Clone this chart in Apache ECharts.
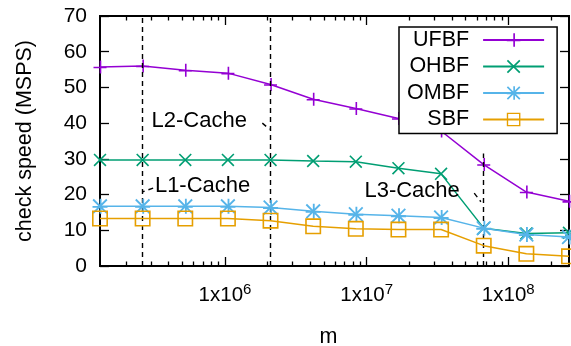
<!DOCTYPE html>
<html><head><meta charset="utf-8">
<script src="https://cdn.jsdelivr.net/npm/echarts@6/dist/echarts.min.js"></script>
<style>html,body{margin:0;padding:0;background:#fff}#c{width:571px;height:346px}</style>
</head><body><div id="c"></div>
<script>
// ---- data ----
const sizes = [131072, 262144, 524288, 1048576, 2097152, 4194304, 8388608, 16777216, 33554432, 67108864, 134217728, 268435456];
const seriesNames = ['UFBF', 'OHBF', 'OMBF', 'SBF'];
const ufbf = [55.7, 56.0, 54.8, 54.0, 50.8, 46.7, 44.1, 41.3, 37.8, 28.4, 20.7, 18.1];
const ohbf = [29.7, 29.7, 29.7, 29.7, 29.7, 29.4, 29.2, 27.4, 25.8, 10.6, 9.1, 9.3];
const ombf = [16.7, 16.7, 16.7, 16.7, 16.4, 15.3, 14.5, 14.1, 13.6, 10.6, 8.8, 8.1];
const sbf  = [13.3, 13.3, 13.3, 13.3, 12.7, 11.1, 10.4, 10.2, 10.2, 5.7, 3.4, 2.7];
const xTickValues = [1e6, 1e7, 1e8];
const xTickLabels = ['1x10^6', '1x10^7', '1x10^8'];
const xMinorTicks = [2e5,3e5,4e5,5e5,6e5,7e5,8e5,9e5,2e6,3e6,4e6,5e6,6e6,7e6,8e6,9e6,2e7,3e7,4e7,5e7,6e7,7e7,8e7,9e7,2e8];
const yTickLabels = ['0','10','20','30','40','50','60','70'];
const cacheNames = ['L1-Cache', 'L2-Cache', 'L3-Cache'];
const cacheSizes = [262144, 2097152, 67108864];
const cacheLineTop = [70, 70, 31.5];

// ---- styles ----
const FONT = "'Liberation Sans', Arial, sans-serif";
const colors = ['#9400d3', '#009e73', '#56b4e9', '#e69f00'];
const PLUS = 'path://M0,6.2H13V7.8H0Z M6.2,0H7.8V13H6.2Z';
const CROSS = 'path://M1.13,0L13,11.87L11.87,13L0,1.13Z M11.87,0L13,1.13L1.13,13L0,11.87Z';
const STAR = 'path://M0,6.2H13V7.8H0Z M6.2,0H7.8V13H6.2Z M1.13,0L13,11.87L11.87,13L0,1.13Z M11.87,0L13,1.13L1.13,13L0,11.87Z';
const SQUARE = 'path://M0,0H16V16H0Z M1.6,1.6V14.4H14.4V1.6Z';
const symbols = [PLUS, CROSS, STAR, SQUARE];
const symSizes = [13, 13, 15, 16];
const values = [ufbf, ohbf, ombf, sbf];

const xMin = sizes[0], xMax = sizes[sizes.length - 1];

function xAxisDef(pos, ticks, len, labels) {
  return {
    type: 'log', logBase: 10, min: xMin, max: xMax, position: pos,
    axisLine: { show: true, onZero: false, lineStyle: { color: '#000', width: 2 } },
    axisTick: { show: true, inside: true, length: len, customValues: ticks, lineStyle: { color: '#000', width: 1.3 } },
    axisLabel: labels ? {
      show: true, customValues: xTickValues, margin: 18, color: '#000', fontFamily: FONT, fontSize: 20.5,
      formatter: function (v) {
        const i = xTickValues.findIndex(t => Math.abs(t - v) / t < 1e-6);
        if (i < 0) return '';
        const parts = xTickLabels[i].split('^');
        return '{b|' + parts[0] + '}{s|' + parts[1] + '}';
      },
      rich: {
        b: { fontSize: 20.5, fontFamily: FONT, color: '#000', lineHeight: 22, verticalAlign: 'bottom' },
        s: { fontSize: 15, fontFamily: FONT, color: '#000', lineHeight: 15, verticalAlign: 'bottom', padding: [0, 0, 9, 0] }
      }
    } : { show: false },
    splitLine: { show: false }, minorTick: { show: false }
  };
}

const series = seriesNames.map((n, k) => ({
  name: n, type: 'line', xAxisIndex: 0, yAxisIndex: 0,
  data: sizes.map((s, i) => [s, values[k][i]]),
  symbol: symbols[k], symbolSize: symSizes[k], showAllSymbol: true,
  lineStyle: { color: colors[k], width: 1.5 },
  itemStyle: { color: colors[k], borderWidth: 0 },
  z: 3 + k, clip: false, animation: false
}));

// annotations
const annoLines = cacheSizes.map((s, i) => [{ coord: [s, 0] }, { coord: [s, cacheLineTop[i]] }]);
annoLines.push([{ coord: [311000, 21.8] }, { coord: [262144, 20.8] }]);
annoLines.push([{ coord: [1835000, 40.0] }, { coord: [2065000, 38.3] }]);
annoLines.push([{ coord: [57500000, 20.4] }, { coord: [64100000, 18.0] }]);
const labelPos = [[320000, 22.5], [303000, 40.7], [9650000, 20.9]];
series.push({
  name: 'annotations', type: 'line', data: [], z: 2, silent: true,
  markLine: {
    silent: true, symbol: 'none', animation: false,
    label: { show: false },
    lineStyle: { color: '#000', width: 1.4, type: [5, 4] },
    emphasis: { disabled: true },
    data: annoLines
  },
  markPoint: {
    silent: true, animation: false, symbolSize: 0,
    label: { show: true, position: 'right', distance: 0, color: '#000', fontFamily: FONT, fontSize: 22 },
    data: cacheNames.map((n, i) => ({ coord: labelPos[i], name: n, label: { formatter: n } }))
  }
});

const chart = echarts.init(document.getElementById('c'), null, { renderer: 'canvas' });
chart.setOption({
  animation: false,
  backgroundColor: '#fff',
  textStyle: { fontFamily: FONT },
  grid: { left: 100, right: 2, top: 16, bottom: 80, outerBoundsMode: 'none' },
  legend: {
    data: seriesNames, orient: 'vertical', align: 'right',
    left: 399, top: 27, padding: [2, 12, 3, 8],
    itemWidth: 61, itemHeight: 17, itemGap: 4.5,
    backgroundColor: '#fff', borderColor: '#000', borderWidth: 1.5, borderRadius: 0,
    textStyle: { fontSize: 21.5, color: '#000', fontFamily: FONT, lineHeight: 22, padding: [0, 9, 0, 0] },
    selectedMode: false, z: 10
  },
  xAxis: [
    Object.assign(xAxisDef('bottom', xTickValues, 9, true), { name: 'm', nameLocation: 'middle', nameGap: 60,
      nameTextStyle: { fontSize: 21.5, color: '#000', fontFamily: FONT, padding: [0, 12, 0, 0] } }),
    xAxisDef('bottom', xMinorTicks, 4.5, false),
    xAxisDef('top', xTickValues, 9, false),
    xAxisDef('top', xMinorTicks, 4.5, false)
  ],
  yAxis: [
    { type: 'value', min: 0, max: 70, interval: 10, position: 'left',
      name: 'check speed (MSPS)', nameLocation: 'middle', nameGap: 64,
      nameTextStyle: { fontSize: 21.5, color: '#000', fontFamily: FONT },
      axisLine: { show: true, onZero: false, lineStyle: { color: '#000', width: 2 } },
      axisTick: { show: true, inside: true, length: 9, lineStyle: { color: '#000', width: 1.3 } },
      axisLabel: { show: true, margin: 13, color: '#000', fontFamily: FONT, fontSize: 21,
        formatter: v => yTickLabels[Math.round(v / 10)] },
      splitLine: { show: false } },
    { type: 'value', min: 0, max: 70, interval: 10, position: 'right',
      axisLine: { show: true, onZero: false, lineStyle: { color: '#000', width: 2 } },
      axisTick: { show: true, inside: true, length: 9, lineStyle: { color: '#000', width: 1.3 } },
      axisLabel: { show: false }, splitLine: { show: false } }
  ],
  series: series
});
</script>
</body></html>
